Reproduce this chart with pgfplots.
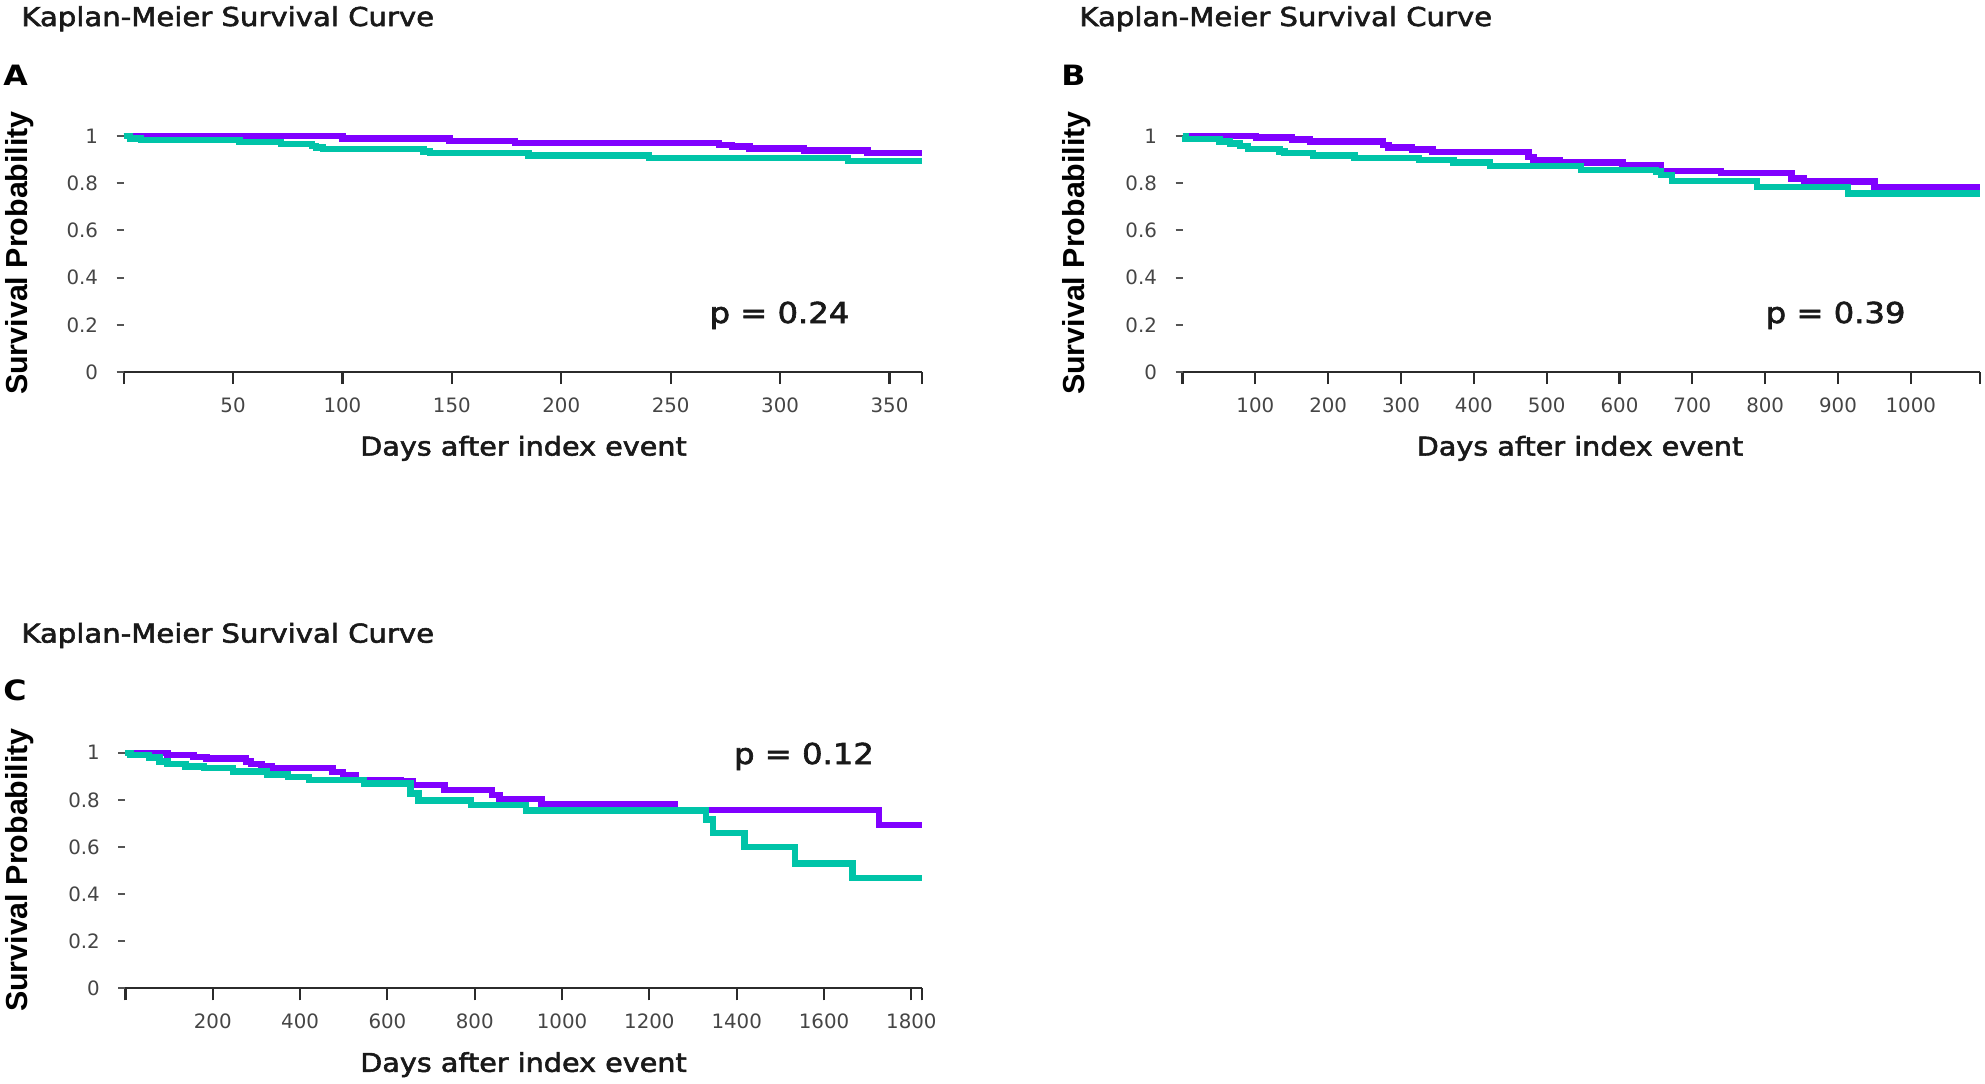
\documentclass[border=0pt]{standalone}
\usepackage{graphicx}
\usepackage{fontspec}
\setmainfont{DejaVu Sans}
\newfontfamily\arialfont{Liberation Sans}
\newfontfamily\medfont[FakeBold=2]{DejaVu Sans}
\usepackage{pgfplots}
\pgfplotsset{compat=1.18}

\definecolor{kmpurple}{HTML}{8000FF}
\definecolor{kmteal}{HTML}{00C4A8}
\definecolor{axisdark}{HTML}{2B2B2B}
\definecolor{tickgray}{HTML}{555555}
\definecolor{labgray}{HTML}{454545}

% common look of the three Kaplan-Meier panels
\pgfplotsset{
  km/.style={
    scale only axis,
    anchor=south west,
    axis lines*=left,
    enlargelimits=false,
    clip=false,
    ymin=0, ymax=1,
    height=118pt,
    ytick={0,0.2,0.4,0.6,0.8,1},
    yticklabels={0,0.2,0.4,0.6,0.8,1},
    tick align=outside,
    y axis line style={draw=none},
    x axis line style={line width=1.1pt, draw=axisdark},
    xtick style={line width=1.1pt, draw=axisdark, /pgfplots/major tick length=6pt},
    ytick style={line width=1pt, draw=tickgray, /pgfplots/major tick length=3.5pt},
    ticklabel style={font=\fontsize{9.9}{11}\selectfont, text=labgray},
    yticklabel style={xshift=-5pt},
    xticklabel style={yshift=-5pt},
  },
  grpA/.style={const plot, kmpurple, line width=3.2pt},
  grpB/.style={const plot, kmteal, line width=3.2pt},
}

\newcommand{\kmtitle}[1]{\scalebox{1.12}[1]{\medfont\fontsize{13}{14}\selectfont #1}}
\newcommand{\kmxlabel}{\scalebox{1.11}[1]{\medfont\fontsize{12.9}{14}\selectfont Days after index event}}
\newcommand{\kmylabel}{\arialfont\bfseries\fontsize{15.2}{17}\selectfont Survival Probability}
\newcommand{\kmletter}[1]{\scalebox{1.13}[1]{\bfseries\fontsize{14}{15}\selectfont #1}}
\newcommand{\kmp}[1]{\scalebox{1.12}[1]{\medfont\fontsize{14.4}{16}\selectfont p = #1}}

\begin{document}
\begin{tikzpicture}
\path[use as bounding box] (0,0) rectangle (992.5pt,-541.5pt);

% ---------------- Panel A: one year ----------------
\begin{axis}[km, at={(61.8pt,-186pt)}, width=399.35pt,
  xmin=0, xmax=365,
  xtick={0,50,100,150,200,250,300,350,365},
  xticklabels={,50,100,150,200,250,300,350,}]
\addplot[grpA] coordinates {
 (0,1) (100,0.99) (149,0.98) (179,0.97) (272,0.962) (278,0.955)
 (286,0.947) (311,0.938) (340,0.928) (365,0.928)};
\addplot[grpB] coordinates {
 (0,1) (3,0.99) (8,0.983) (53,0.975) (72,0.966) (86,0.958) (88,0.952)
 (91,0.945) (137,0.935) (140,0.927) (185,0.917) (240,0.906) (331,0.894)
 (365,0.894)};
\end{axis}

% ---------------- Panel B: three years ----------------
\begin{axis}[km, at={(591.25pt,-186pt)}, width=398.75pt,
  xmin=0, xmax=1095,
  xtick={0,100,200,300,400,500,600,700,800,900,1000,1095},
  xticklabels={,100,200,300,400,500,600,700,800,900,1000,}]
\addplot[grpA] coordinates {
 (0,1) (101,0.993) (150,0.985) (175,0.977) (275,0.963) (283,0.952)
 (315,0.943) (343,0.933) (475,0.91) (482,0.898) (518,0.887) (604,0.876)
 (657,0.853) (739,0.843) (836,0.82) (853,0.808) (950,0.781) (1095,0.781)};
\addplot[grpB] coordinates {
 (0,1) (4,0.987) (51,0.976) (65,0.969) (79,0.958) (90,0.945) (133,0.934)
 (140,0.927) (179,0.917) (236,0.908) (325,0.898) (372,0.888) (422,0.874)
 (547,0.856) (650,0.849) (657,0.835) (672,0.81) (789,0.783) (914,0.757)
 (1095,0.757)};
\end{axis}

% ---------------- Panel C: five years ----------------
\begin{axis}[km, at={(62.7pt,-494.15pt)}, width=398.45pt, height=117.8pt,
  xmin=0, xmax=1825,
  xtick={0,200,400,600,800,1000,1200,1400,1600,1800,1825},
  xticklabels={,200,400,600,800,1000,1200,1400,1600,1800,}]
\addplot[grpA] coordinates {
 (0,1) (96,0.99) (156,0.983) (186,0.975) (276,0.963) (288,0.952)
 (312,0.941) (336,0.935) (474,0.918) (498,0.905) (528,0.884) (630,0.877)
 (659,0.863) (731,0.842) (839,0.82) (857,0.803) (953,0.782) (1258,0.757)
 (1726,0.693) (1825,0.693)};
\addplot[grpB] coordinates {
 (0,1) (12,0.99) (54,0.98) (78,0.962) (96,0.951) (138,0.941) (180,0.934)
 (246,0.92) (324,0.908) (372,0.898) (420,0.884) (546,0.87) (653,0.827)
 (671,0.797) (791,0.778) (917,0.755) (1330,0.716) (1345,0.66) (1418,0.6)
 (1533,0.53) (1665,0.467) (1825,0.467)};
\end{axis}

% titles, panel letters, axis titles and p-values
\node[anchor=base west, inner sep=0, text=black!90] at (10.5pt,-13pt) {\kmtitle{Kaplan-Meier Survival Curve}};
\node[anchor=base west, inner sep=0, text=black!90] at (539.5pt,-13pt) {\kmtitle{Kaplan-Meier Survival Curve}};
\node[anchor=base west, inner sep=0, text=black!90] at (10.5pt,-321.3pt) {\kmtitle{Kaplan-Meier Survival Curve}};

\node[anchor=base west, inner sep=0] at (1.5pt,-42.5pt) {\kmletter{A}};
\node[anchor=base west, inner sep=0] at (530.5pt,-42.5pt) {\kmletter{B}};
\node[anchor=base west, inner sep=0] at (1.5pt,-350pt) {\kmletter{C}};

\node[rotate=90, inner sep=0] at (10pt,-126.5pt) {\kmylabel};
\node[rotate=90, inner sep=0] at (538.5pt,-126.5pt) {\kmylabel};
\node[rotate=90, inner sep=0] at (10pt,-435pt) {\kmylabel};

\node[anchor=base, inner sep=0, text=black!90] at (261.75pt,-227.75pt) {\kmxlabel};
\node[anchor=base, inner sep=0, text=black!90] at (790pt,-227.75pt) {\kmxlabel};
\node[anchor=base, inner sep=0, text=black!90] at (261.75pt,-535.9pt) {\kmxlabel};

\node[anchor=base, inner sep=0, text=black!90] at (389.75pt,-161.5pt) {\kmp{0.24}};
\node[anchor=base, inner sep=0, text=black!90] at (917.8pt,-161.5pt) {\kmp{0.39}};
\node[anchor=base, inner sep=0, text=black!90] at (402pt,-382pt) {\kmp{0.12}};
\end{tikzpicture}
\end{document}
